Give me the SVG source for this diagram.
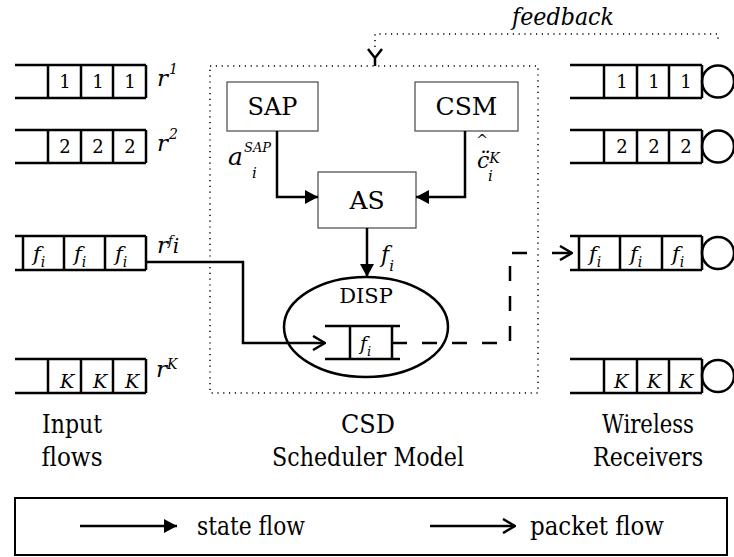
<svg xmlns="http://www.w3.org/2000/svg" width="734" height="557" viewBox="0 0 734 557">
<defs>
<style>
text{font-family:'DejaVu Serif',serif;fill:#000}
.it{font-style:italic}
.q{fill:none;stroke:#000;stroke-width:2.5}
.box{fill:#fff;stroke:#555;stroke-width:1.3}
.st{fill:none;stroke:#000;stroke-width:2.5}
.dot{fill:none;stroke:#000;stroke-width:1.5;stroke-dasharray:1.2 4.6}
.dash{fill:none;stroke:#000;stroke-width:2.5;stroke-dasharray:15 15}
.d{font-size:18px}
.lbl{font-size:26px}
</style>
<marker id="fa" viewBox="0 0 13 14" refX="13" refY="7" markerWidth="13" markerHeight="14" markerUnits="userSpaceOnUse" orient="auto">
<path d="M0,0 L13,7 L0,14 z" fill="#000"/>
</marker>
<marker id="oa" viewBox="0 0 14 16" refX="13" refY="8" markerWidth="14" markerHeight="16" markerUnits="userSpaceOnUse" orient="auto">
<path d="M1,1 L13,8 L1,15" fill="none" stroke="#000" stroke-width="2.5"/>
</marker>
</defs>
<rect width="734" height="557" fill="#fff"/>

<g id="in1">
<path class="q" d="M15,65 H146 M15,98 H146 M48,65 V98 M81,65 V98 M113,65 V98 M146,65 V98"/>
<text class="d" x="65" y="88" text-anchor="middle">1</text>
<text class="d" x="98" y="88" text-anchor="middle">1</text>
<text class="d" x="130" y="88" text-anchor="middle">1</text>
<text class="it" x="157" y="86" font-size="23">r<tspan dx="1" dy="-12" font-size="14">1</tspan></text>
</g>
<g id="in2">
<path class="q" d="M15,130 H146 M15,163 H146 M48,130 V163 M81,130 V163 M113,130 V163 M146,130 V163"/>
<text class="d" x="65" y="153" text-anchor="middle">2</text>
<text class="d" x="98" y="153" text-anchor="middle">2</text>
<text class="d" x="130" y="153" text-anchor="middle">2</text>
<text class="it" x="157" y="151" font-size="23">r<tspan dx="1" dy="-12" font-size="14">2</tspan></text>
</g>
<g id="inf">
<path class="q" d="M15,236 H146 M15,270 H146 M23,236 V270 M64,236 V270 M105,236 V270 M146,236 V270"/>
<text class="it" x="33" y="261" font-size="21">f<tspan dy="6" font-size="14">i</tspan></text>
<text class="it" x="74" y="261" font-size="21">f<tspan dy="6" font-size="14">i</tspan></text>
<text class="it" x="115" y="261" font-size="21">f<tspan dy="6" font-size="14">i</tspan></text>
<text class="it" x="157" y="253" font-size="23">r<tspan dy="-8" font-size="13">f</tspan><tspan dy="8" font-size="20">i</tspan></text>
</g>
<g id="inK">
<path class="q" d="M15,359 H146 M15,393 H146 M48,359 V393 M81,359 V393 M113,359 V393 M146,359 V393"/>
<text class="it" x="60" y="388" font-size="19">K</text>
<text class="it" x="93" y="388" font-size="19">K</text>
<text class="it" x="125" y="388" font-size="19">K</text>
<text class="it" x="156" y="377" font-size="23">r<tspan dy="-8" font-size="14">K</tspan></text>
</g>

<g id="csd">
<rect class="dot" x="210" y="66" width="328" height="327"/>
</g>
<g id="sap">
<rect class="box" x="227" y="82" width="91" height="49"/>
<text x="272.5" y="115" font-size="24" text-anchor="middle">SAP</text>
</g>
<g id="csm">
<rect class="box" x="415" y="82" width="103" height="49"/>
<text x="466.5" y="115" font-size="25" text-anchor="middle">CSM</text>
</g>
<g id="as">
<rect class="box" x="318" y="172" width="98" height="56"/>
<text x="367" y="209" font-size="25" text-anchor="middle">AS</text>
</g>
<g id="disp">
<ellipse cx="366" cy="327" rx="82" ry="50" fill="none" stroke="#000" stroke-width="2.5"/>
<text x="366" y="303" font-size="21" text-anchor="middle">DISP</text>
<path class="q" d="M325,326 H400 M325,359 H400 M350,326 V359 M392,326 V359"/>
<text class="it" x="360" y="350" font-size="19">f<tspan dy="6" font-size="13">i</tspan></text>
</g>

<g id="out1">
<path class="q" d="M570,65 H702 M570,98 H702 M604,65 V98 M637,65 V98 M669,65 V98 M702,65 V98"/>
<circle cx="718" cy="81.5" r="16" class="q"/>
<text class="d" x="622" y="88" text-anchor="middle">1</text>
<text class="d" x="654" y="88" text-anchor="middle">1</text>
<text class="d" x="686" y="88" text-anchor="middle">1</text>
</g>
<g id="out2">
<path class="q" d="M570,130 H702 M570,163 H702 M604,130 V163 M637,130 V163 M669,130 V163 M702,130 V163"/>
<circle cx="718" cy="146.5" r="16" class="q"/>
<text class="d" x="622" y="153" text-anchor="middle">2</text>
<text class="d" x="654" y="153" text-anchor="middle">2</text>
<text class="d" x="686" y="153" text-anchor="middle">2</text>
</g>
<g id="outf">
<path class="q" d="M570,236 H702 M570,270 H702 M579,236 V270 M620,236 V270 M662,236 V270 M702,236 V270"/>
<circle cx="718" cy="253" r="16" class="q"/>
<text class="it" x="589" y="261" font-size="21">f<tspan dy="6" font-size="14">i</tspan></text>
<text class="it" x="630" y="261" font-size="21">f<tspan dy="6" font-size="14">i</tspan></text>
<text class="it" x="672" y="261" font-size="21">f<tspan dy="6" font-size="14">i</tspan></text>
</g>
<g id="outK">
<path class="q" d="M570,359 H702 M570,393 H702 M604,359 V393 M637,359 V393 M669,359 V393 M702,359 V393"/>
<circle cx="718" cy="376" r="16" class="q"/>
<text class="it" x="614" y="388" font-size="19">K</text>
<text class="it" x="647" y="388" font-size="19">K</text>
<text class="it" x="679" y="388" font-size="19">K</text>
</g>

<g id="connectors">
<path class="st" d="M277,131 V197 H318" marker-end="url(#fa)"/>
<path class="st" d="M465,131 V197 H416" marker-end="url(#fa)"/>
<path class="st" d="M367,228 V277" marker-end="url(#fa)"/>
<path class="st" d="M146,262 H243 V343 H325" marker-end="url(#oa)"/>
<path class="dash" d="M392,343 H510 V253 H542"/>
<path class="st" d="M552,253 H572" marker-end="url(#oa)"/>
<path class="dot" d="M375,47 V34 H718 V42"/>
<path class="st" d="M368,49 L375,58 L382,49 M375,58 V66" stroke-width="2"/>
</g>

<g id="labels">
<text class="it" x="228" y="165" font-size="25">a</text>
<text class="it" x="244" y="152" font-size="13">SAP</text>
<text class="it" x="252" y="178" font-size="15">i</text>
<text x="482" y="145" font-size="14" text-anchor="middle">^</text>
<text class="it" x="477" y="168" font-size="22">c̈<tspan dy="-5" font-size="14">K</tspan></text>
<text class="it" x="488" y="181" font-size="15">i</text>
<text class="it" x="381" y="262" font-size="22">f<tspan dy="9" font-size="15">i</tspan></text>
<text class="it" x="512" y="25" font-size="24" textLength="102" lengthAdjust="spacingAndGlyphs">feedback</text>
</g>

<g id="captions">
<text class="lbl" x="72" y="433" text-anchor="middle" textLength="60" lengthAdjust="spacingAndGlyphs">Input</text>
<text class="lbl" x="72" y="466" text-anchor="middle" textLength="61" lengthAdjust="spacingAndGlyphs">flows</text>
<text class="lbl" x="368" y="433" text-anchor="middle" textLength="54" lengthAdjust="spacingAndGlyphs">CSD</text>
<text class="lbl" x="368" y="466" text-anchor="middle" textLength="192" lengthAdjust="spacingAndGlyphs">Scheduler Model</text>
<text class="lbl" x="648" y="433" text-anchor="middle" textLength="92" lengthAdjust="spacingAndGlyphs">Wireless</text>
<text class="lbl" x="648" y="466" text-anchor="middle" textLength="110" lengthAdjust="spacingAndGlyphs">Receivers</text>
</g>

<g id="legend">
<rect x="15" y="498" width="712" height="57" fill="none" stroke="#000" stroke-width="2"/>
<path class="st" d="M80,526 H177" marker-end="url(#fa)"/>
<text class="lbl" x="197" y="535" textLength="108" lengthAdjust="spacingAndGlyphs">state flow</text>
<path class="st" d="M430,526 H515" marker-end="url(#oa)"/>
<text class="lbl" x="530" y="535" textLength="134" lengthAdjust="spacingAndGlyphs">packet flow</text>
</g>
</svg>
